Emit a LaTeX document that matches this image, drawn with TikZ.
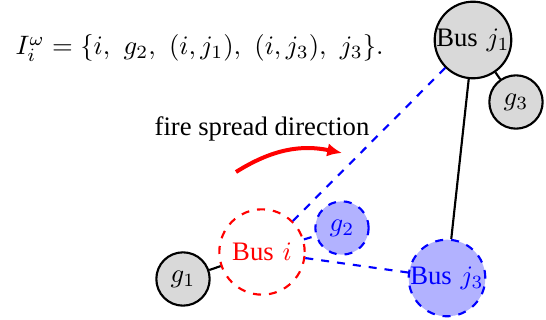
\documentclass[tikz,border=0pt]{standalone}
\usepackage[no-math]{fontspec}
\setmainfont{Liberation Serif}
\usetikzlibrary{arrows.meta}
\newcommand{\gap}{\hspace{3.33pt}}
\begin{document}
\begin{tikzpicture}[x=0.375pt,y=0.375pt,
  bus/.style={circle,draw,thick,inner sep=0pt,minimum size=26pt},
  gen/.style={circle,draw,thick,fill=gray!30,inner sep=0pt,minimum size=20pt},
  hit/.style={draw=blue,dashed,thick,fill=blue!30,text=blue},
  hitline/.style={blue,dashed,thick}]
  \useasboundingbox (0,0) rectangle (546,320);
  \node[anchor=base west,inner sep=0pt] (set) at (15,265)
    {$I_i^\omega=\{i,\gap g_2,\gap (i,j_1),\gap (i,j_3),\gap j_3\}.$};
  \node[bus,fill=gray!30] (j1) at (473,280) {Bus\gap$j_1$};
  \node[gen] (g3) at (516,218) {$g_3$};
  \node[bus,hit] (j3) at (447,42) {Bus\gap$j_3$};
  \node[bus,draw=red,dashed,text=red,minimum size=32pt] (bi) at (262,68) {Bus\gap$i$};
  \node[gen] (g1) at (183,41) {$g_1$};
  \node[gen,hit] (g2) at (342,92) {$g_2$};
  \draw[thick] (j1) -- (g3);
  \draw[thick] (j1) -- (j3);
  \draw[thick] (g1) -- (bi);
  \draw[hitline] (bi) -- (j1);
  \draw[hitline] (bi) -- (g2);
  \draw[hitline] (bi) -- (j3);
  % fire
  \node[anchor=base] (firetxt) at (262,184) {fire spread direction};
  \coordinate (fireA) at (236,148);
  \coordinate (fireB) at (342,167);
  \draw[red,line width=1.5pt,-{Latex[length=5.5pt,width=5pt]}] (fireA) to[bend left=22] (fireB);
\end{tikzpicture}
\end{document}
